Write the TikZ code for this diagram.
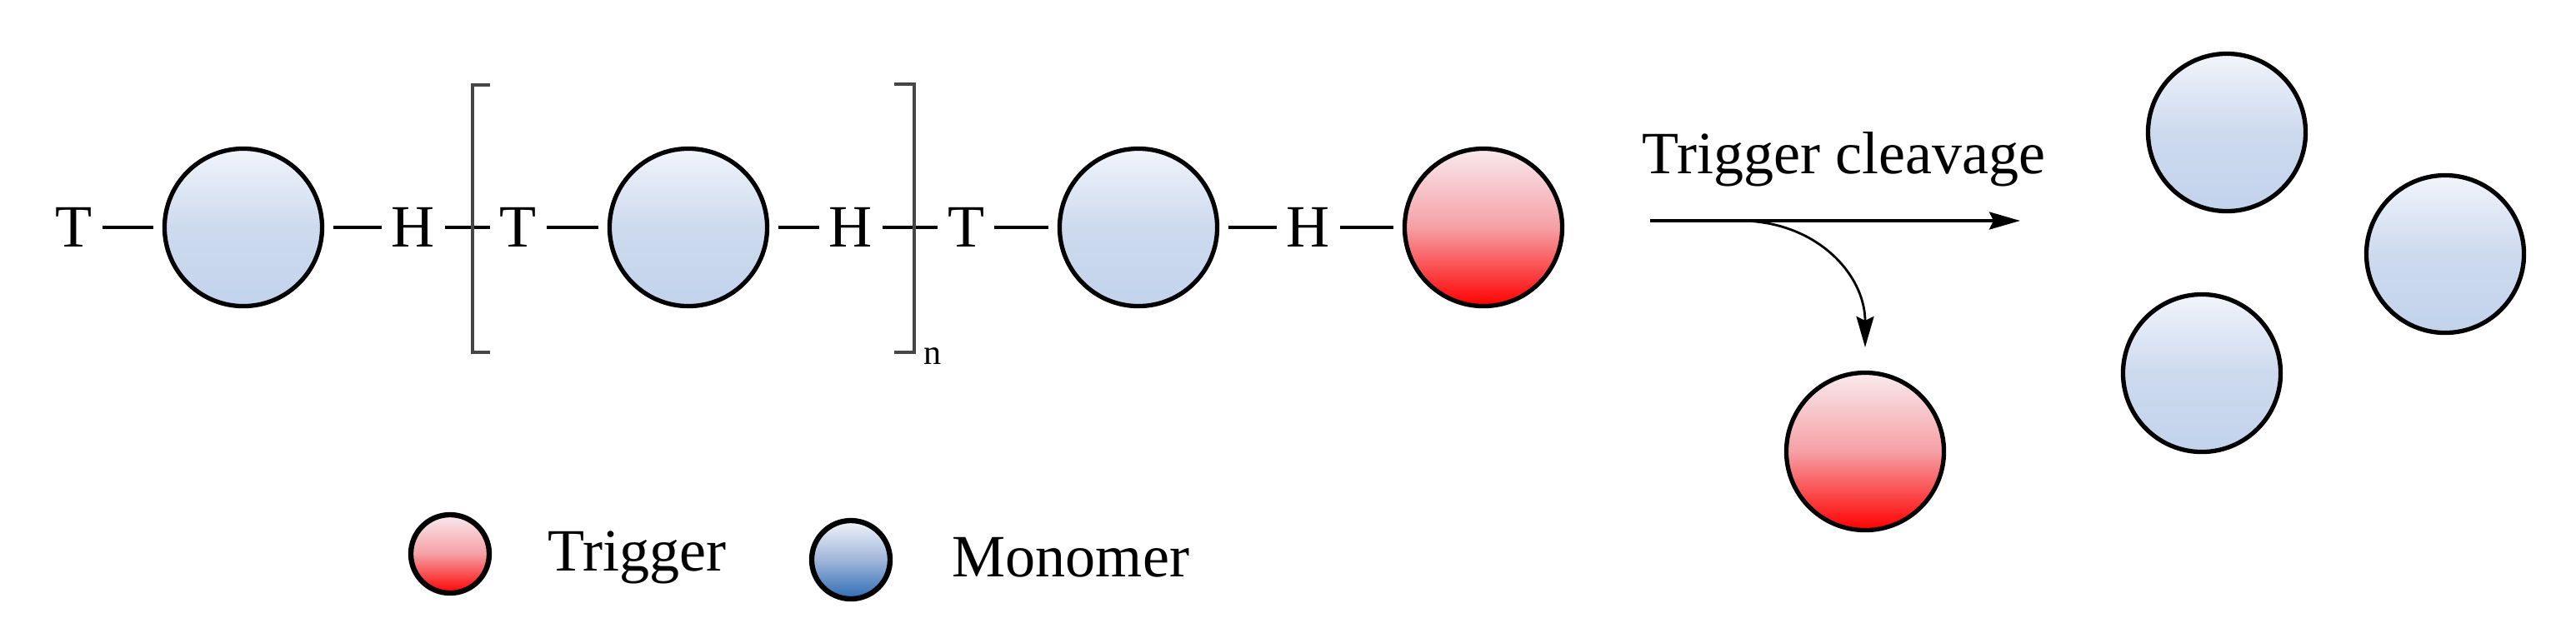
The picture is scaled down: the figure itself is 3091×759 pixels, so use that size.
\documentclass[tikz,border=0pt]{standalone}
\usepackage{fontspec}
\setmainfont{Liberation Serif}
\usetikzlibrary{arrows.meta}
\definecolor{bluetop}{RGB}{240,244,251}
\definecolor{bluemid}{RGB}{205,218,238}
\definecolor{bluebot}{RGB}{195,211,236}
\definecolor{redtop}{RGB}{248,234,238}
\definecolor{redmid}{RGB}{245,160,165}
\definecolor{redbot}{RGB}{255,0,0}
\definecolor{legtop}{RGB}{242,244,250}
\definecolor{legmid}{RGB}{160,182,218}
\definecolor{legbot}{RGB}{46,108,180}
\definecolor{brackgray}{RGB}{70,70,70}
\begin{document}
\begin{tikzpicture}[x=0.01cm,y=-0.01cm,
  ball/.style={circle, draw=black, line width=1.5pt, minimum size=1.89cm, inner sep=0pt, outer sep=0.135cm},
  monoball/.style={ball, top color=bluetop, bottom color=bluebot, middle color=bluemid},
  trigball/.style={ball, top color=redtop, bottom color=redbot, middle color=redmid},
  legball/.style={circle, draw=black, line width=1.8pt, minimum size=0.94cm, inner sep=0pt},
  atom/.style={font=\fontsize{20.5}{24}\selectfont, inner xsep=0.12cm, inner ysep=0pt, outer sep=0pt},
  lbl/.style={font=\fontsize{20.5}{24}\selectfont, inner sep=0pt, anchor=base west},
  bond/.style={line width=0.95pt},
  brackline/.style={draw=brackgray, line width=0.95pt},
  arrowline/.style={line width=0.9pt, -{Stealth[length=0.37cm,width=0.21cm,inset=0.05cm]}}
]
\useasboundingbox (0,0) rectangle (3091,759);
\fill[white] (0,0) rectangle (3091,759);

% chain
\node[atom] (t1) at (89,273) {T};
\node[monoball] (c1) at (292,273) {};
\node[atom] (h1) at (496,273) {H};
\node[atom] (t2) at (622,273) {T};
\node[monoball] (c2) at (826,273) {};
\node[atom] (h2) at (1021,273) {H};
\node[atom] (t3) at (1159,273) {T};
\node[monoball] (c3) at (1366,273) {};
\node[atom] (h3) at (1570,273) {H};
\node[trigball] (r1) at (1780,273) {};

\draw[bond] (t1) -- (c1);
\draw[bond] (c1) -- (h1);
\draw[bond] (h1) -- (t2);
\draw[bond] (t2) -- (c2);
\draw[bond] (c2) -- (h2);
\draw[bond] (h2) -- (t3);
\draw[bond] (t3) -- (c3);
\draw[bond] (c3) -- (h3);
\draw[bond] (h3) -- (r1);

% brackets
\draw[brackline] (588,102) -- (567,102) -- (567,423) -- (588,423);
\draw[brackline] (1073,101) -- (1097,101) -- (1097,423) -- (1073,423);
\node[font=\fontsize{12}{14}\selectfont, inner sep=0pt, anchor=base west] (nsub) at (1108,437) {n};

% reaction arrow
\node[lbl] (cleave) at (1970,208) {Trigger cleavage};
\coordinate (arrS) at (1980,265);
\coordinate (arrE) at (2424,265);
\coordinate (brS) at (2087,265);
\draw[arrowline] (arrS) -- (arrE);

% products
\node[trigball] (rfree) at (2238,542) {};
\node[monoball] (m1) at (2672,159) {};
\node[monoball] (m2) at (2934,305) {};
\node[monoball] (m3) at (2642,448) {};

\draw[arrowline, line width=0.8pt, shorten >=0.17cm] (brS) .. controls (2180,265) and (2238,330) .. (rfree.north);

% legend
\node[legball, top color=redtop, bottom color=redbot, middle color=redmid] (legT) at (540,665) {};
\node[lbl] (legTtxt) at (657,685) {Trigger};
\node[legball, top color=legtop, bottom color=legbot, middle color=legmid] (legM) at (1021,672) {};
\node[lbl] (legMtxt) at (1142,692) {Monomer};
\end{tikzpicture}
\end{document}
